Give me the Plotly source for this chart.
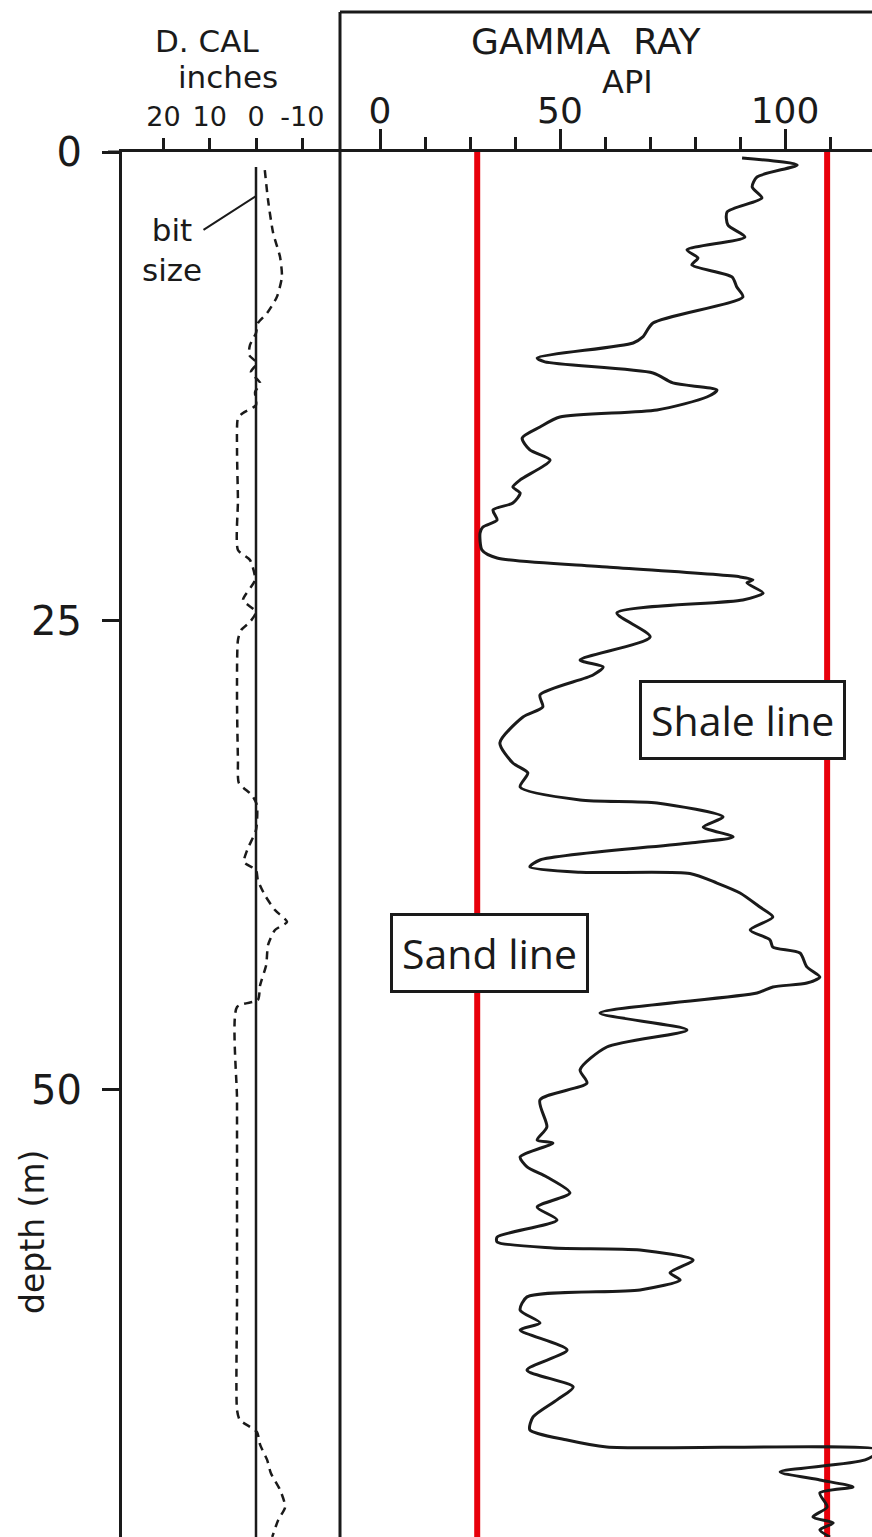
import plotly.graph_objects as go

W, H = 872, 1537

# depth axis (m), shared by both tracks
depth_ticks = [0, 25, 50]

# gamma ray curve (depth m, API)
gr_depth = [0.32, 0.69, 1.33, 1.87, 2.45, 3.20, 3.89, 4.53, 5.22, 5.65,
            6.02, 6.66, 7.20, 7.73, 9.12, 9.86, 10.18, 10.98, 11.19, 11.78,
            12.31, 12.69, 13.06, 13.75, 14.13, 14.66, 15.25, 15.88, 16.42, 17.48,
            17.86, 18.18, 18.71, 19.08, 19.62, 19.99, 20.31, 21.22, 21.64, 22.12,
            22.65, 22.81, 22.97, 23.51, 23.88, 24.57, 25.85, 27.08, 27.45, 27.88,
            28.94, 29.58, 30.12, 31.50, 32.57, 33.10, 33.85, 34.54, 34.70, 35.45,
            35.98, 36.51, 36.83, 37.74, 38.11, 38.40, 38.46, 38.97, 39.50, 40.25,
            40.78, 41.47, 42.00, 42.38, 42.70, 43.44, 43.98, 44.30, 44.51, 44.83,
            45.90, 46.80, 47.71, 48.93, 49.63, 50.53, 51.97, 52.67, 52.83, 53.57,
            54.10, 54.64, 55.49, 56.24, 56.93, 57.84, 58.10, 58.42, 58.53, 59.06,
            59.75, 60.13, 60.66, 61.03, 61.73, 62.42, 62.79, 63.86, 64.93, 65.83,
            66.52, 67.43, 68.12, 68.66, 69.03, 69.19, 69.72, 70.36, 70.79, 71.16,
            71.48, 72.23, 72.76, 73.08, 73.45, 73.83]
gr_api = [89.4, 103.0, 93.1, 91.9, 94.3, 85.7, 85.9, 90.1, 75.8, 78.5,
          77.0, 86.9, 88.1, 89.6, 67.4, 64.9, 62.5, 38.8, 40.7, 67.4,
          72.3, 83.2, 80.7, 68.4, 44.4, 39.5, 35.1, 37.0, 42.0, 34.6,
          32.8, 34.6, 32.8, 27.9, 28.9, 25.4, 24.7, 25.2, 28.9, 56.0,
          88.9, 92.1, 90.6, 94.6, 89.6, 58.5, 66.7, 49.4, 55.1, 52.6,
          39.5, 40.2, 35.3, 29.6, 32.8, 36.5, 34.6, 49.4, 68.4, 84.7,
          79.8, 87.2, 76.5, 39.5, 37.0, 49.4, 76.5, 83.2, 88.9, 93.8,
          97.0, 91.4, 96.3, 97.0, 103.7, 105.4, 108.6, 105.4, 97.0, 93.1,
          54.3, 75.8, 56.0, 49.4, 51.1, 39.5, 41.2, 38.8, 42.7, 34.6,
          36.3, 41.2, 46.9, 38.8, 43.7, 28.9, 28.9, 42.7, 64.2, 77.3,
          71.6, 74.1, 64.2, 36.3, 34.6, 39.5, 34.6, 46.2, 36.3, 47.7,
          43.7, 37.8, 37.0, 46.2, 56.0, 123.5, 119.8, 98.8, 108.6, 116.8,
          108.6, 110.4, 106.9, 111.9, 108.6, 111.1]

# differential caliper (inches) and bit size
cal_depth = [0.96, 2.56, 4.32, 5.60, 6.66, 7.73, 8.58, 9.12, 9.65, 10.29,
             10.82, 11.25, 11.73, 12.31, 12.79, 13.49, 13.91, 14.18, 15.88, 18.55,
             21.22, 21.75, 22.81, 23.88, 24.52, 25.05, 25.48, 26.01, 29.21, 32.41,
             33.64, 34.28, 34.81, 36.14, 37.21, 37.85, 38.27, 38.81, 39.61, 40.41,
             41.04, 41.47, 42.27, 43.34, 44.40, 45.20, 45.58, 50.53, 55.86, 61.19,
             67.06, 67.59, 68.23, 68.92, 69.72, 70.42, 71.32, 72.23, 72.92, 73.83]
cal_inch = [-1.9, -2.6, -3.7, -5.2, -5.6, -4.5, -2.4, -0.4, 0.0, 1.3,
            1.5, -0.2, 1.1, -0.9, 0.2, 0.0, 2.8, 3.9, 4.1, 3.9,
            3.9, 1.3, 0.2, 2.8, 0.0, 1.3, 3.2, 3.9, 4.1, 3.9,
            3.7, 0.9, -0.2, 0.0, 1.9, 2.6, 0.0, -0.4, -1.9, -4.1,
            -6.7, -4.1, -2.6, -2.2, -0.9, -0.4, 4.1, 4.1, 4.1, 4.1,
            4.1, 3.5, -0.2, -0.9, -2.4, -3.2, -5.2, -6.3, -4.8, -3.5]
bit_depth = [0.8, 73.83]
bit_inch = [0, 0]

# sand / shale base lines (API)
sand_api = 24.0
shale_api = 110.4

cal_ticks = [20, 10, 0, -10]
gr_major = [0, 400 / 9, 100]
gr_major_text = ["0", "50", "100"]
gr_minor = [100 / 9 * i for i in (1, 2, 3, 5, 6, 7, 8, 10)]

INK = "#1a1a1a"
FONT = "DejaVu Sans"


def px(x):
    return x / W


def py(y):
    return 1 - y / H


fig = go.Figure()

# caliper track
fig.add_trace(go.Scatter(x=bit_inch, y=bit_depth, mode="lines",
                         line=dict(color=INK, width=2.5), xaxis="x", yaxis="y"))
fig.add_trace(go.Scatter(x=cal_inch, y=cal_depth, mode="lines",
                         line=dict(color=INK, width=2.5, dash="8px,6px",
                                   shape="spline", smoothing=0.6),
                         xaxis="x", yaxis="y"))

# gamma ray track
for v in (sand_api, shale_api):
    fig.add_trace(go.Scatter(x=[v, v], y=[0, 73.83], mode="lines",
                             line=dict(color="#e8000b", width=6),
                             xaxis="x2", yaxis="y"))
fig.add_trace(go.Scatter(x=gr_api, y=gr_depth, mode="lines",
                         line=dict(color=INK, width=3, shape="spline",
                                   smoothing=0.7),
                         xaxis="x2", yaxis="y"))

top = 152
fig.update_layout(
    width=W, height=H,
    margin=dict(l=0, r=0, t=0, b=0, pad=0),
    paper_bgcolor="white", plot_bgcolor="white",
    showlegend=False,
    font=dict(family=FONT, color=INK),
    yaxis=dict(domain=[0, py(top)], range=[73.83, 0], anchor="x",
               tickvals=depth_ticks, ticks="outside", ticklen=17, tickwidth=3,
               tickcolor=INK, tickfont=dict(size=40, color=INK),
               ticklabelstandoff=12,
               showline=True, linewidth=3, linecolor=INK,
               showgrid=False, zeroline=False, automargin=False),
    xaxis=dict(domain=[px(122), px(340)], range=[28.94, -18.14], anchor="y",
               side="top", tickvals=cal_ticks,
               ticktext=[str(t) for t in cal_ticks],
               ticks="outside", ticklen=11, tickwidth=3, tickcolor=INK,
               tickfont=dict(size=27, color=INK), ticklabelstandoff=1,
               showline=True, linewidth=3, linecolor=INK,
               showgrid=False, zeroline=False, automargin=False),
    xaxis2=dict(domain=[px(340), 1], range=[-9.88, 121.48], anchor="y",
                side="top", tickvals=gr_major, ticktext=gr_major_text,
                ticks="outside", ticklen=20, tickwidth=3, tickcolor=INK,
                tickfont=dict(size=36, color=INK), ticklabelstandoff=-8,
                minor=dict(tickvals=gr_minor, ticks="outside", ticklen=12,
                           tickwidth=3, tickcolor=INK),
                showline=True, linewidth=3, linecolor=INK,
                showgrid=False, zeroline=False, automargin=False),
)

# header frame and track borders
frame = dict(color=INK, width=3)
fig.add_shape(type="line", xref="paper", yref="paper",
              x0=px(340), x1=px(340), y0=py(12), y1=0, line=frame)
fig.add_shape(type="line", xref="paper", yref="paper",
              x0=px(340), x1=1, y0=py(12), y1=py(12), line=frame)
fig.add_shape(type="line", xref="paper", yref="paper",
              x0=px(108), x1=px(122), y0=py(top), y1=py(top), line=frame)

labels = [
    ("D. CAL", 207, 41, 31),
    ("inches", 228, 77, 31),
    ("GAMMA\u00a0\u00a0RAY", 586, 41, 36),
    ("API", 627, 82, 32),
]
for text, x, y, size in labels:
    fig.add_annotation(text=text, x=px(x), y=py(y), xref="paper", yref="paper",
                       showarrow=False, xanchor="center", yanchor="middle",
                       font=dict(size=size, color=INK))

fig.add_annotation(text="depth (m)", x=px(32), y=py(1232), xref="paper",
                   yref="paper", showarrow=False, textangle=-90,
                   xanchor="center", yanchor="middle",
                   font=dict(size=33, color=INK))

# bit size pointer
fig.add_annotation(text="bit<br>size", x=0, y=2.35, xref="x", yref="y",
                   showarrow=True, arrowhead=0, arrowwidth=2, arrowcolor=INK,
                   ax=-84, ay=54, font=dict(size=31, color=INK))

# boxed labels
for text, x, y in [("Shale line", 742, 720), ("Sand line", 489, 953)]:
    fig.add_annotation(text=text, x=px(x), y=py(y), xref="paper", yref="paper",
                       showarrow=False, xanchor="center", yanchor="middle",
                       bgcolor="white", bordercolor=INK,
                       borderwidth=3, borderpad=9,
                       font=dict(family="Open Sans", size=41, color=INK))

fig.write_html("out.html", config={"displayModeBar": False},
               post_script="document.body.style.margin='0px';")
